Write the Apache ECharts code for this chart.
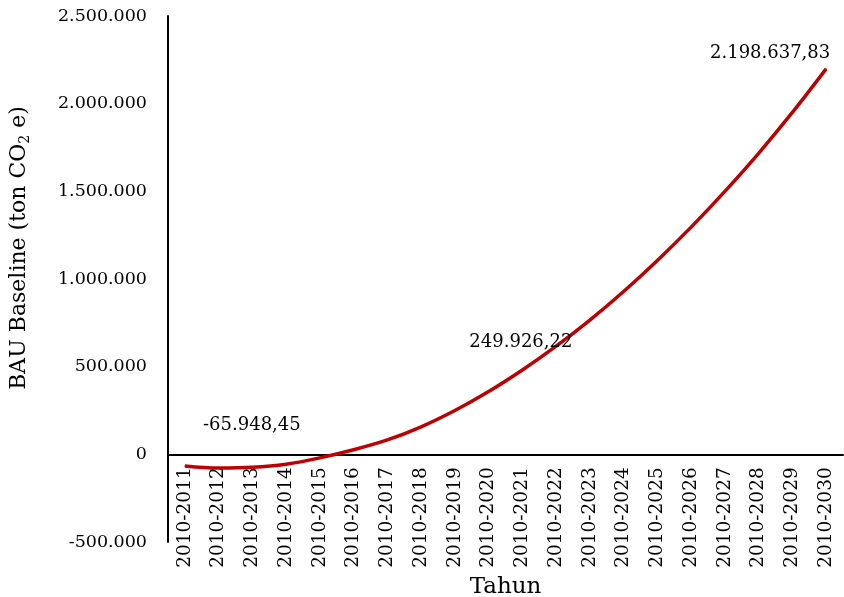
<!DOCTYPE html>
<html>
<head>
<meta charset="utf-8">
<script src="https://cdn.jsdelivr.net/npm/echarts@6/dist/echarts.min.js"></script>
<style>
  html, body { margin: 0; padding: 0; background: #fff; }
  #chart { width: 844px; height: 597px; }
</style>
</head>
<body>
<div id="chart"></div>
<script>
// Periods on the horizontal axis
const periods = [
  '2010-2011', '2010-2012', '2010-2013', '2010-2014', '2010-2015',
  '2010-2016', '2010-2017', '2010-2018', '2010-2019', '2010-2020',
  '2010-2021', '2010-2022', '2010-2023', '2010-2024', '2010-2025',
  '2010-2026', '2010-2027', '2010-2028', '2010-2029', '2010-2030'
];

// BAU baseline emissions (ton CO2e)
const baseline = [
  -65948.45, -78000, -74000, -56000, -20000,
  26000, 82000, 157000, 249926.22, 358000,
  481000, 617000, 766000, 929000, 1106000,
  1296000, 1500000, 1717000, 1950000, 2198637.83
];

// Points whose value is written next to the line, and how far each
// label is shifted from its default spot above the point
const labelledIdx = [0, 8, 19];
const labelShift = [[67, -26], [66, -54], [-56, -1]];

const yTicks = { min: -500000, max: 2500000, step: 500000 };

const FONT = 'DejaVu Serif';

// Plot area in pixels
const GRID = { left: 168, right: 1, top: 16, bottom: 55 };
const CHART_H = 597;
// Distance from the bottom of the plot to the zero line, so the category
// axis (line and labels) can sit on y = 0
const plotH = CHART_H - GRID.top - GRID.bottom;
const zeroLift = plotH * (0 - yTicks.min) / (yTicks.max - yTicks.min);

// Indonesian number style: '.' for thousands, ',' for decimals
function fmtId(v, decimals) {
  const neg = v < 0;
  const abs = Math.abs(v);
  let s = decimals ? abs.toFixed(decimals) : String(Math.round(abs));
  let [intPart, dec] = s.split('.');
  intPart = intPart.replace(/\B(?=(\d{3})+(?!\d))/g, '.');
  return (neg ? '-' : '') + intPart + (dec ? ',' + dec : '');
}

const seriesData = baseline.map((v, i) => {
  if (labelledIdx.indexOf(i) < 0) return v;
  return {
    value: v,
    label: {
      show: true,
      position: 'top',
      formatter: p => fmtId(p.value, 2),
      fontFamily: FONT,
      fontSize: 18,
      color: '#000'
    }
  };
});

const chart = echarts.init(document.getElementById('chart'), null, { renderer: 'canvas' });
chart.setOption({
  animation: false,
  backgroundColor: '#fff',
  grid: Object.assign({ containLabel: false, outerBoundsMode: 'none' }, GRID),
  xAxis: {
    type: 'category',
    data: periods,
    boundaryGap: true,
    position: 'bottom',
    offset: -zeroLift,
    axisLine: { onZero: false, lineStyle: { color: '#000', width: 2 } },
    axisTick: { show: false },
    axisLabel: {
      rotate: 90,
      margin: 13,
      interval: 0,
      fontFamily: FONT,
      fontSize: 18.5,
      color: '#000'
    },
    name: 'Tahun',
    nameLocation: 'middle',
    nameGap: 116,
    nameTextStyle: { fontFamily: FONT, fontSize: 23, color: '#000' }
  },
  yAxis: {
    type: 'value',
    min: yTicks.min,
    max: yTicks.max,
    interval: yTicks.step,
    axisLine: { show: true, onZero: false, lineStyle: { color: '#000', width: 2 } },
    axisTick: { show: false },
    splitLine: { show: false },
    axisLabel: {
      margin: 21,
      fontFamily: FONT,
      fontSize: 17.5,
      color: '#000',
      formatter: v => fmtId(v, 0)
    },
    name: 'BAU Baseline (ton CO{sub|2} e)',
    nameLocation: 'middle',
    nameGap: 136,
    nameTextStyle: {
      fontFamily: FONT,
      fontSize: 22,
      color: '#000',
      padding: [0, 0, 0, 62],
      rich: {
        sub: { fontFamily: FONT, fontSize: 14, color: '#000', padding: [12, 0, 0, 0] }
      }
    }
  },
  series: [{
    type: 'line',
    data: seriesData,
    smooth: 0.35,
    showSymbol: true,
    symbol: 'circle',
    symbolSize: 1,
    lineStyle: { color: '#C00000', width: 3.5 },
    itemStyle: { color: '#C00000' },
    labelLayout: function (params) {
      const k = labelledIdx.indexOf(params.dataIndex);
      if (k < 0) return {};
      return { dx: labelShift[k][0], dy: labelShift[k][1], hideOverlap: false };
    }
  }]
});
</script>
</body>
</html>
